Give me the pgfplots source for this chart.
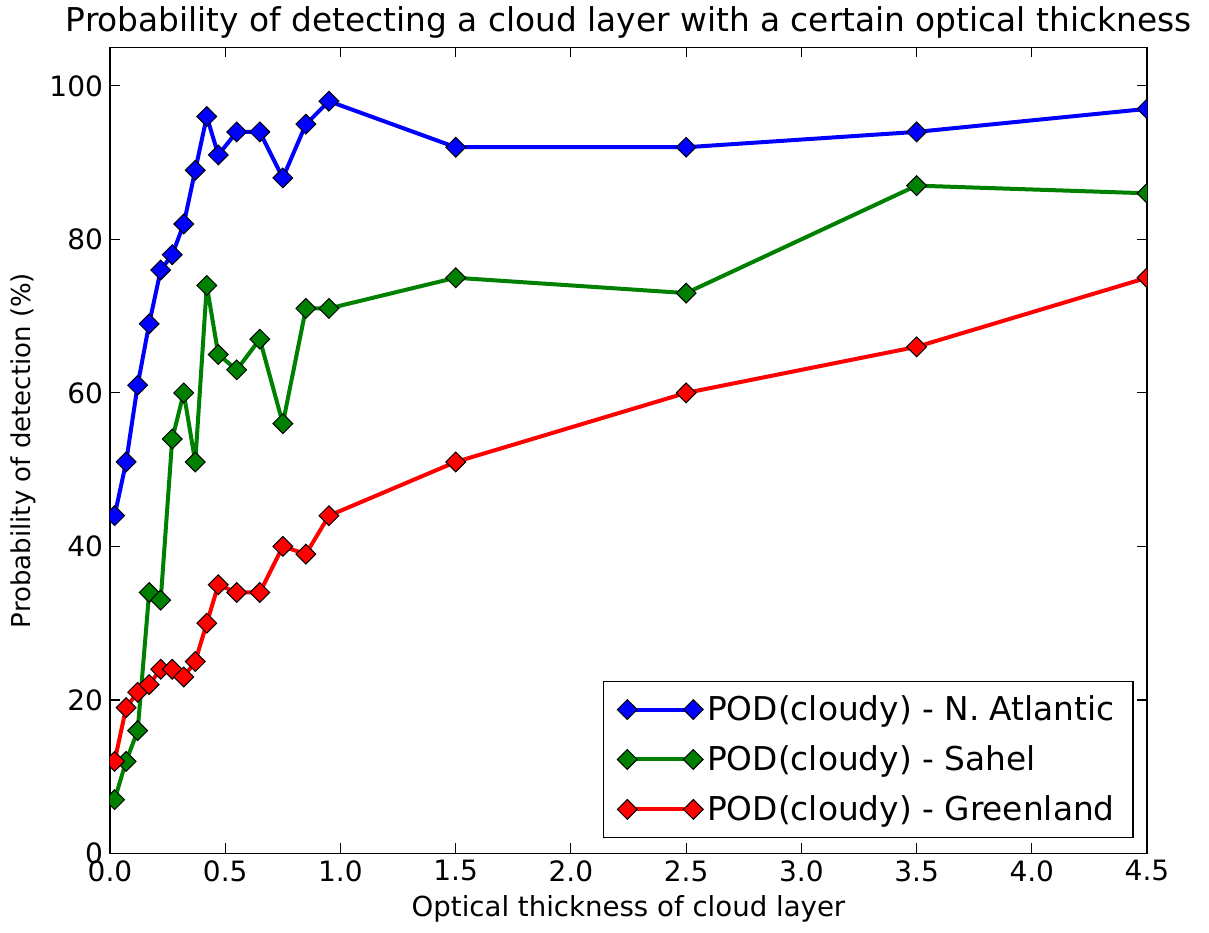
\documentclass[border=0pt]{standalone}
\usepackage{fontspec}
\setmainfont{DejaVu Sans}
\usepackage{pgfplots}
\pgfplotsset{compat=1.18}
\definecolor{mblue}{rgb}{0,0,1}
\definecolor{mgreen}{rgb}{0,0.5,0}
\definecolor{mred}{rgb}{1,0,0}
\begin{document}
\begin{tikzpicture}
\begin{axis}[
 scale only axis, width=518.5pt, height=403pt,
 xmin=0, xmax=4.5, ymin=0, ymax=105,
 xtick={0,0.5,1,1.5,2,2.5,3,3.5,4,4.5}, ytick={0,20,40,60,80,100},
 xticklabel style={/pgf/number format/.cd,fixed,fixed zerofill,precision=1},
 tick align=inside, major tick length=5pt,
 tick style={black, line width=0.6pt},
 axis line style={line width=0.9pt},
 /pgf/number format/assume math mode=true,
 tick label style={font=\fontsize{14}{16}\selectfont},
 xlabel style={font=\fontsize{13.8}{16}\selectfont},
 ylabel style={font=\fontsize{13}{15}\selectfont},
 title style={font=\fontsize{16.4}{19}\selectfont, yshift=-5pt},
 title={Probability of detecting a cloud layer with a certain optical thickness},
 xlabel={Optical thickness of cloud layer},
 ylabel={Probability of detection (\%)},
 legend style={at={(0.987,0.019)}, anchor=south east, font=\fontsize{16.4}{19}\selectfont, draw=black, line width=0.8pt, inner xsep=7pt, inner ysep=5pt, row sep=7pt},
 legend cell align=left,
 legend image code/.code={\draw[mark repeat=2,mark phase=1,#1] plot coordinates {(0pt,0pt) (16.5pt,0pt) (33pt,0pt)};},
 clip marker paths=true,
 every axis plot/.append style={line width=2pt, line join=round, mark=square*, mark size=3.5pt, mark options={draw=black, line width=0.5pt, rotate=45, solid, line join=miter}},
]
\addplot[color=mblue] coordinates {(0.02,44) (0.07,51) (0.12,61) (0.17,69) (0.22,76) (0.27,78) (0.32,82) (0.37,89) (0.42,96) (0.47,91) (0.55,94) (0.65,94) (0.75,88) (0.85,95) (0.95,98) (1.5,92) (2.5,92) (3.5,94) (4.5,97)};
\addlegendentry{POD(cloudy) - N. Atlantic}
\addplot[color=mgreen] coordinates {(0.02,7) (0.07,12) (0.12,16) (0.17,34) (0.22,33) (0.27,54) (0.32,60) (0.37,51) (0.42,74) (0.47,65) (0.55,63) (0.65,67) (0.75,56) (0.85,71) (0.95,71) (1.5,75) (2.5,73) (3.5,87) (4.5,86)};
\addlegendentry{POD(cloudy) - Sahel}
\addplot[color=mred] coordinates {(0.02,12) (0.07,19) (0.12,21) (0.17,22) (0.22,24) (0.27,24) (0.32,23) (0.37,25) (0.42,30) (0.47,35) (0.55,34) (0.65,34) (0.75,40) (0.85,39) (0.95,44) (1.5,51) (2.5,60) (3.5,66) (4.5,75)};
\addlegendentry{POD(cloudy) - Greenland}
\coordinate (bl) at (rel axis cs:0,0);
\coordinate (tr) at (rel axis cs:1,1);
\end{axis}
\path (bl) ++(-55pt,-39.5pt) coordinate (BL);
\path (tr) ++(31pt,23.5pt) coordinate (TR);
\path (BL) rectangle (TR);
\end{tikzpicture}
\end{document}
